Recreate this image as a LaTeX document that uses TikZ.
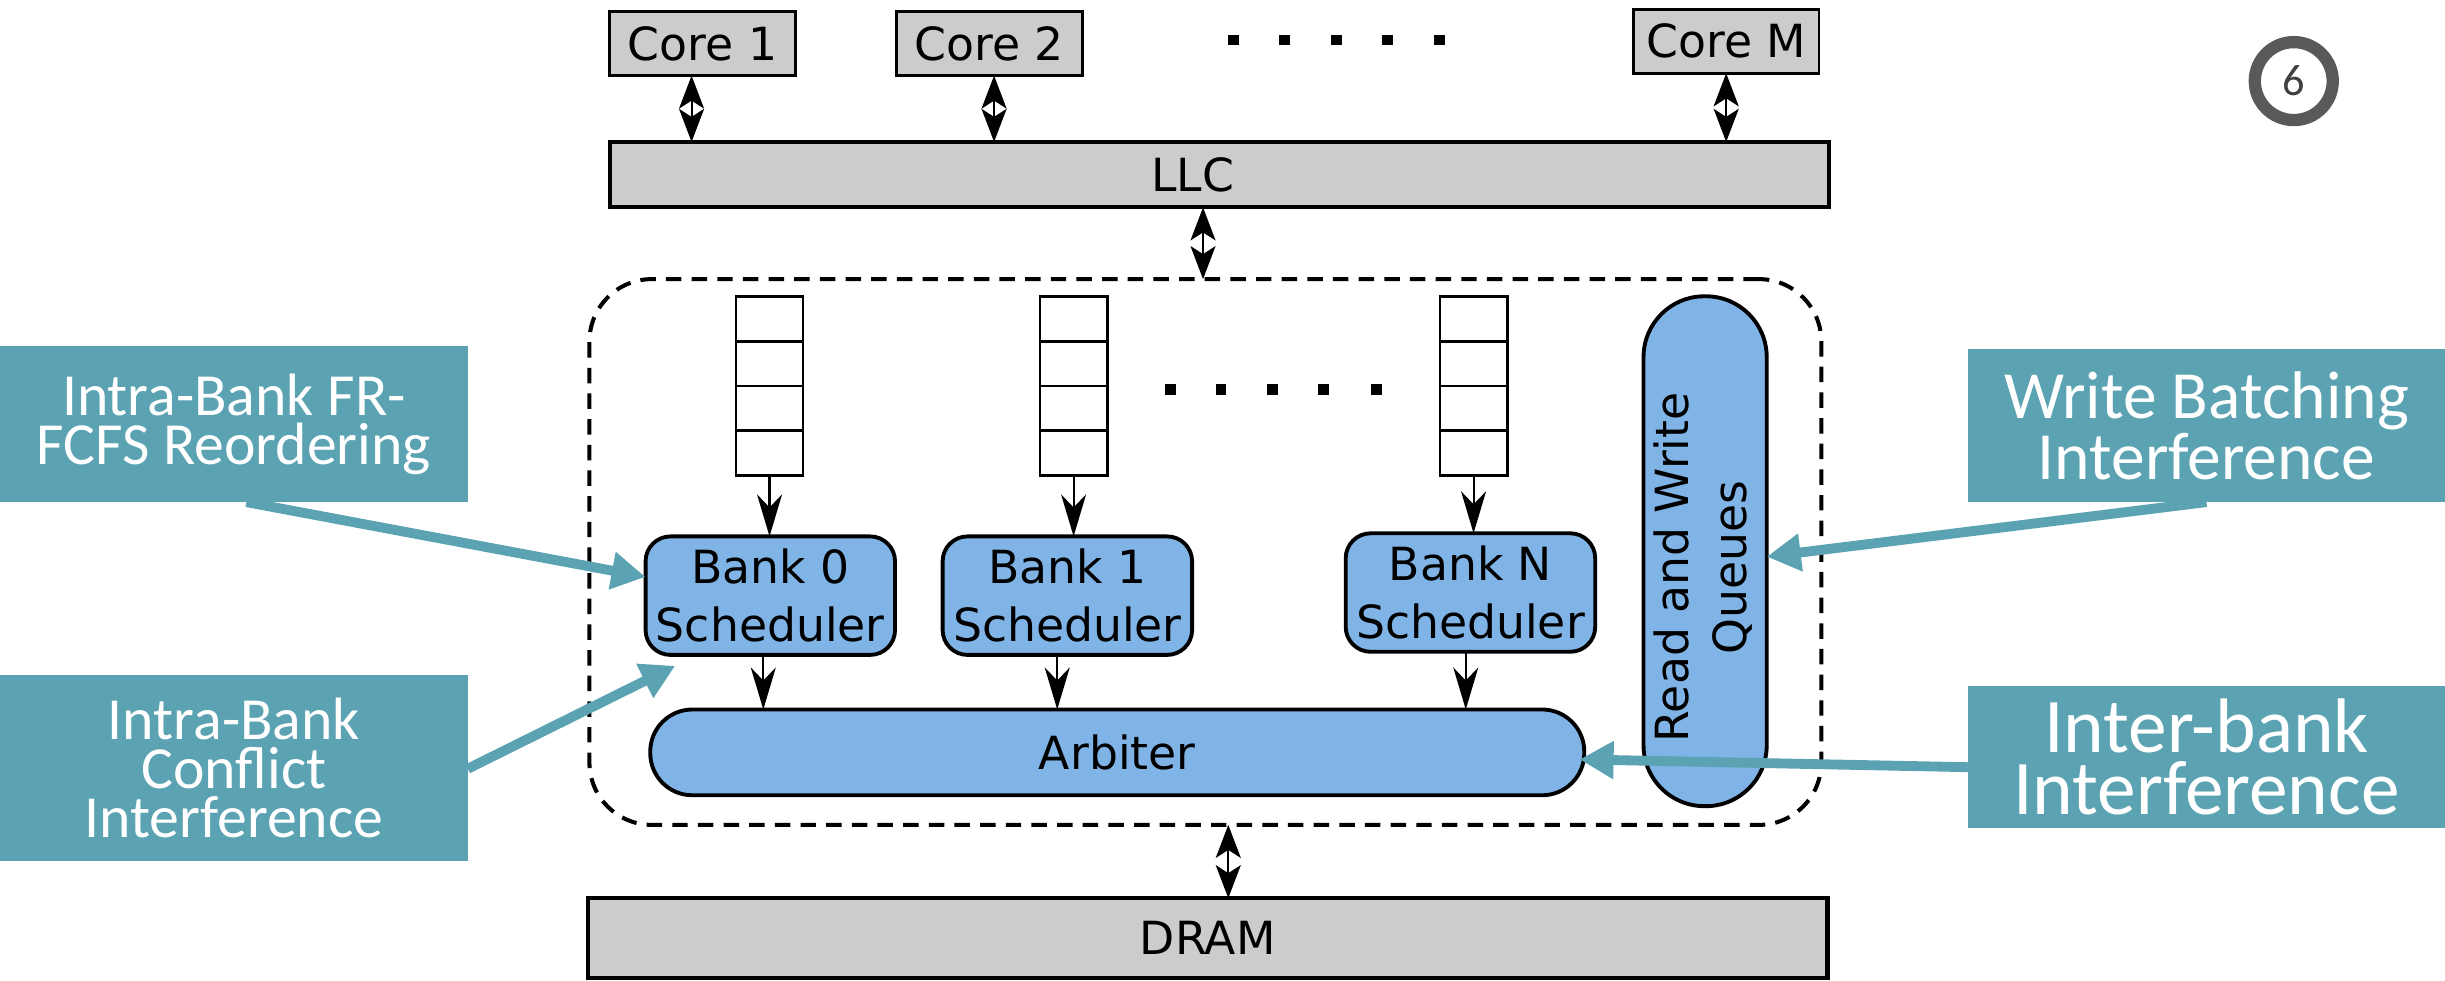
\documentclass[tikz,border=0pt]{standalone}
\usepackage{fontspec}
\setmainfont{DejaVu Sans}
\newfontfamily\calfont{Carlito}
\usetikzlibrary{arrows.meta,calc}
\newlength\pxu
\setlength\pxu{0.015593cm}
\definecolor{boxgray}{HTML}{CCCCCC}
\definecolor{unitblue}{HTML}{80B4E6}
\definecolor{calloutteal}{HTML}{5BA3B2}
\definecolor{ringgray}{HTML}{595959}
\definecolor{digitgray}{HTML}{404040}
\begin{document}
\begin{tikzpicture}[x=0.015593cm, y=-0.015593cm,
  every node/.style={inner sep=0pt, outer sep=0pt},
  diagfont/.style={font=\fontsize{13}{16.5}\selectfont},
  corebox/.style={draw, fill=boxgray, line width=0.8pt, diagfont,
    minimum width=119\pxu, minimum height=41\pxu},
  widebox/.style={draw, fill=boxgray, line width=1.2pt, diagfont},
  queuebox/.style={draw, fill=white, line width=0.8pt,
    minimum width=43\pxu, minimum height=115\pxu},
  bankbox/.style={draw, fill=unitblue, line width=1.1pt, rounded corners=16\pxu,
    diagfont, align=center, minimum width=160\pxu, minimum height=76\pxu},
  unitbox/.style={draw, fill=unitblue, line width=1.1pt, diagfont},
  ctrlbox/.style={draw, line width=1.15pt, dash pattern=on 4.4pt off 2.9pt,
    rounded corners=40\pxu},
  callout/.style={fill=calloutteal, text=white, align=center},
  biarrow/.style={line width=0.6pt,
    {Stealth[length=0.33cm, width=0.25cm, inset=0.08cm]}-{Stealth[length=0.33cm, width=0.25cm, inset=0.08cm]}},
  flowarrow/.style={line width=0.6pt, -{Stealth[length=0.42cm, width=0.25cm, inset=0.13cm]}},
  callarrow/.style={draw=calloutteal, line width=2.8pt,
    -{Triangle[length=0.34cm, width=0.36cm]}},
  dotmark/.style={fill=black}
]
\useasboundingbox (0,0) rectangle (1568,628.5);

% cores and last-level cache
\node[corebox] (c1) at (450.5,28) {Core 1};
\node[corebox] (c2) at (634.5,28) {Core 2};
\node[corebox] (cm) at (1107,26.5) {Core M};
\foreach \x in {791,824,857,890,923}
  \fill[dotmark] (\x-3.5,22.5) rectangle (\x+3.5,29);
\node[widebox, minimum width=782\pxu, minimum height=42\pxu] (llc) at (782,112) {};
\node[diagfont] (llctext) at (765,112) {LLC};

% memory controller
\node[ctrlbox, minimum width=790\pxu, minimum height=350\pxu] (mc) at (773,354) {};

% per-bank request queues
\node[queuebox] (q1) at (493.5,247.5) {};
\node[queuebox] (q2) at (688.5,247.5) {};
\node[queuebox] (q3) at (945,247.5) {};
\foreach \q in {q1,q2,q3}
  \foreach \k in {1,2,3}
    \draw[line width=0.8pt] ($(\q.north west)!\k/4!(\q.south west)$) -- ($(\q.north east)!\k/4!(\q.south east)$);
\foreach \x in {750.5,783,816,849,883}
  \fill[dotmark] (\x-3.5,246) rectangle (\x+3.5,253);

% bank schedulers, arbiter, read/write queues
\node[bankbox] (b0) at (494,382) {Bank 0\\Scheduler};
\node[bankbox] (b1) at (684.5,382) {Bank 1\\Scheduler};
\node[bankbox] (bN) at (943,380) {Bank N\\Scheduler};
\node[unitbox, rounded corners=27\pxu, minimum width=599\pxu, minimum height=55\pxu] (arb) at (716.5,482.5) {Arbiter};
\node[unitbox, rounded corners=39\pxu, minimum width=79\pxu, minimum height=327\pxu] (rwq) at (1093.5,353.5) {};
\node[diagfont, rotate=90, align=center] (rwqtext) at (1092,364) {Read and Write\\Queues};

% DRAM
\node[widebox, minimum width=795\pxu, minimum height=51\pxu] (dram) at (774.5,601.5) {DRAM};

% links between cores, cache, controller and DRAM
\coordinate (c1p) at ($(c1.south)+(-7,0)$);
\coordinate (c2p) at ($(c2.south)+(3,0)$);
\coordinate (cmp) at (cm.south);
\foreach \p in {c1p,c2p,cmp}
  \draw[biarrow] (\p) -- (\p |- llc.north);
\coordinate (mcin) at ($(mc.north)+(-1.5,0)$);
\draw[biarrow] (mcin |- llc.south) -- (mcin);
\coordinate (mcout) at ($(mc.south)+(14.7,0)$);
\draw[biarrow] (mcout) -- (mcout |- dram.north);

% queue to scheduler, scheduler to arbiter
\draw[flowarrow] (q1.south) -- (q1.south |- b0.north);
\draw[flowarrow] (q2.south) -- (q2.south |- b1.north);
\draw[flowarrow] (q3.south) -- (q3.south |- bN.north);
\coordinate (b0o) at ($(b0.south)+(-4.5,0)$);
\coordinate (b1o) at ($(b1.south)+(-6.5,0)$);
\coordinate (bNo) at ($(bN.south)+(-3,0)$);
\foreach \p in {b0o,b1o,bNo}
  \draw[flowarrow] (\p) -- (\p |- arb.north);

% interference callouts
\node[callout, font=\calfont\fontsize{17}{13.9}\selectfont,
  minimum width=300\pxu, minimum height=100\pxu] (cA) at (150,272) {Intra-Bank FR-\\FCFS Reordering};
\node[callout, font=\calfont\fontsize{17}{13.9}\selectfont,
  minimum width=300\pxu, minimum height=119\pxu] (cB) at (150,492.5) {Intra-Bank\\Conflict\\Interference};
\node[callout, font=\calfont\fontsize{19.2}{16.2}\selectfont,
  minimum width=306\pxu, minimum height=98\pxu] (cC) at (1415,273) {Write Batching\\Interference};
\node[callout, font=\calfont\fontsize{22}{17.7}\selectfont,
  minimum width=306\pxu, minimum height=91\pxu] (cD) at (1415,485.5) {Inter-bank\\Interference};

\draw[callarrow] ($(cA.south)+(8,0)$) -- ($(b0.west)+(0,-12)$);
\draw[callarrow] ($(cB.east)+(0,0.5)$) -- ($(b0.south west)+(19,7)$);
\draw[callarrow] (cC.south) -- ($(rwq.east)+(0,3.5)$);
\draw[callarrow] ($(cD.west)+(0,6.5)$) -- ($(arb.east)+(-3,4.5)$);

% slide number badge
\node[circle, draw=ringgray, line width=3.5pt, minimum size=50\pxu,
  text=digitgray, font=\calfont\fontsize{12.6}{14}\selectfont] (badge) at (1471,52) {6};
\end{tikzpicture}
\end{document}
